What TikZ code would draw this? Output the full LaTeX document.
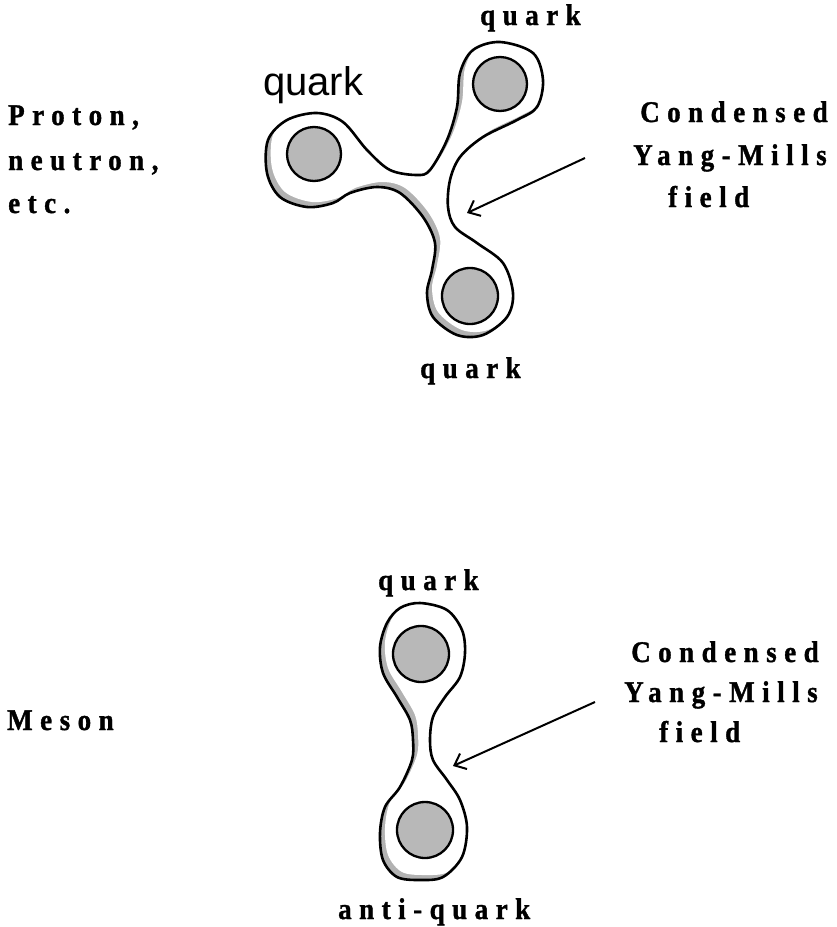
\documentclass[tikz,border=0pt]{standalone}
\usepackage{fontspec}
\setmainfont{Liberation Serif}
\newfontfamily\spacedserif[LetterSpace=25, FakeStretch=0.9, BoldFeatures={FakeBold=1.2}]{Liberation Serif}
\newfontfamily\scansans{Liberation Sans}
\usetikzlibrary{arrows.meta}

\newcommand\labelfont{\spacedserif\bfseries\fontsize{30}{42}\selectfont}

\tikzset{
  blob/.style={line width=2.6pt, line join=round},
  quarkdot/.style={draw, line width=2.3pt, fill=black!28},
  fieldarrow/.style={-{Straight Barb[length=10pt,width=17pt,line width=2pt]}, line width=2pt},
  biglabel/.style={inner sep=0pt, anchor=base west, font=\labelfont},
}

\begin{document}
\begin{tikzpicture}[x=1pt, y=-1pt]
\def\shadecolor{black!30}
\def\baryonpath{plot[smooth cycle, tension=0.55] coordinates {(500,42) (533,53) (543,80) (537,107) (517,120) (483,137) (460,157) (450,180) (448,207) (455,227) (477,243) (503,263) (513,293) (507,317) (483,335) (457,335) (433,317) (427,293) (432,270) (435,243) (423,217) (400,193) (377,187) (350,193) (333,203) (307,207) (280,197) (267,173) (268,140) (287,120) (317,113) (343,122) (367,150) (390,170) (417,175) (430,170) (447,140) (457,107) (460,73) (473,50)}}
\def\mesonpath{plot[smooth cycle, tension=0.55] coordinates {(420,603) (447,610) (462,630) (465,653) (460,677) (445,697) (433,717) (430,740) (433,760) (447,780) (460,800) (467,827) (462,857) (443,877) (420,880) (397,877) (383,860) (380,833) (385,807) (400,787) (412,760) (413,740) (410,720) (397,697) (383,673) (380,647) (387,623) (400,608)}}
\useasboundingbox[fill=white] (0,0) rectangle (836,927);

\begin{scope} % BARYON
\begin{scope}
\clip \baryonpath;
\fill[\shadecolor] \baryonpath;
\fill[white, shift={(5,-5)}] \baryonpath;
\end{scope}
\draw[blob] \baryonpath;

\node[quarkdot, circle, minimum size=54pt, inner sep=0pt] (quarktop) at (500,84) {};
\node[quarkdot, circle, minimum size=54pt, inner sep=0pt] (quarkleft) at (314,154) {};
\node[quarkdot, circle, minimum size=56pt, inner sep=0pt] (quarkbottom) at (470,296) {};

\coordinate (baryontail) at (585,158);
\coordinate (baryontip) at (467,213);
\draw[fieldarrow] (baryontail) -- (baryontip);

\node[inner sep=0pt, anchor=base west, font=\scansans\fontsize{40}{40}\selectfont] (quarkscan) at (263,95) {quark};
\node[biglabel] (quarktoplabel) at (480,25) {quark};
\node[biglabel] (quarkbottomlabel) at (420,378) {quark};
\node[biglabel, align=left] (baryonlabel) at (8,213) {Proton,\\[3pt] neutron,\\[1pt] etc.};
\node[biglabel, align=left] (baryonfield) at (633,207) {\hspace*{7pt}Condensed\\[1pt] Yang-Mills\\ \hspace*{35pt}field};
\end{scope}

\begin{scope} % MESON
\begin{scope}
\clip \mesonpath;
\fill[\shadecolor] \mesonpath;
\fill[white, shift={(5,-5)}] \mesonpath;
\end{scope}
\draw[blob] \mesonpath;

\node[quarkdot, circle, minimum size=56pt, inner sep=0pt] (mesonquark) at (421,654) {};
\node[quarkdot, circle, minimum size=56pt, inner sep=0pt] (mesonanti) at (425,830) {};

\coordinate (mesontail) at (595,702);
\coordinate (mesontip) at (453,766);
\draw[fieldarrow] (mesontail) -- (mesontip);

\node[biglabel] (mesonquarklabel) at (378,590) {quark};
\node[biglabel] (mesonantilabel) at (338,919) {anti-quark};
\node[biglabel] (mesonlabel) at (7,730) {Meson};
\node[biglabel, align=left] (mesonfield) at (624,742) {\hspace*{7pt}Condensed\\[-2pt] Yang-Mills\\[-2pt] \hspace*{35pt}field};
\end{scope}
\end{tikzpicture}
\end{document}
